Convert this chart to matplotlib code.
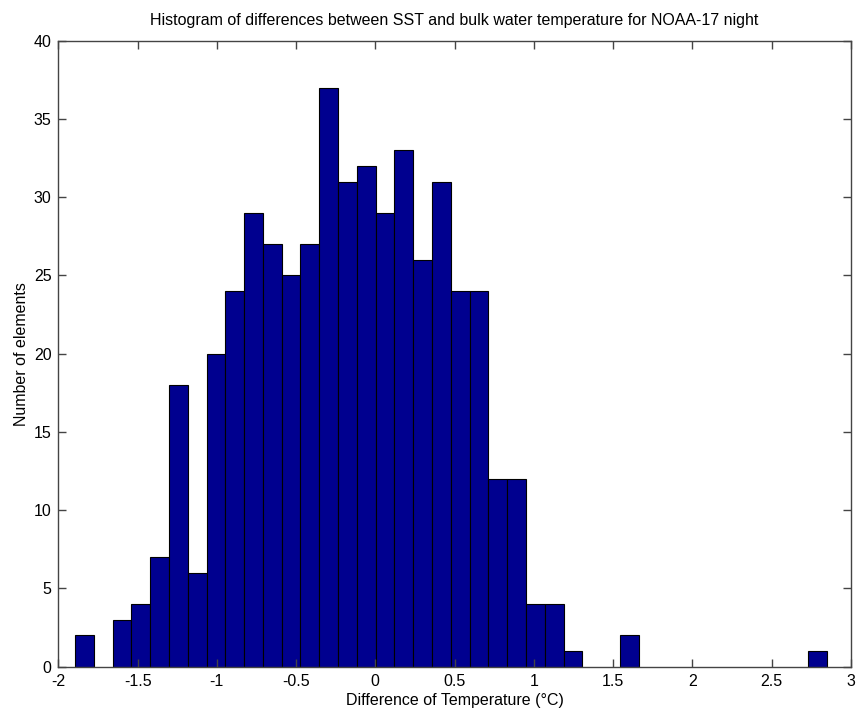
import numpy as np
import matplotlib
matplotlib.use("Agg")
import matplotlib.pyplot as plt

# Histogram of SST minus bulk water temperature, NOAA-17 night passes
bin_min = -1.895
bin_max = 2.848
counts = [2, 0, 3, 4, 7, 18, 6, 20, 24, 29,
          27, 25, 27, 37, 31, 32, 29, 33, 26, 31,
          24, 24, 12, 12, 4, 4, 1, 0, 0, 2,
          0, 0, 0, 0, 0, 0, 0, 0, 0, 1]

title = "Histogram of differences between SST and bulk water temperature for NOAA-17 night"
xlabel = "Difference of Temperature (\u00b0C)"
ylabel = "Number of elements"
xticks = [-2, -1.5, -1, -0.5, 0, 0.5, 1, 1.5, 2, 2.5, 3]
xticklabels = ["-2", "-1.5", "-1", "-0.5", "0", "0.5", "1", "1.5", "2", "2.5", "3"]
yticks = [0, 5, 10, 15, 20, 25, 30, 35, 40]

plt.rcParams['font.family'] = ['Liberation Sans', 'DejaVu Sans']

edges = np.linspace(bin_min, bin_max, len(counts) + 1)
widths = np.diff(edges)

fig = plt.figure(figsize=(8.59, 7.19), dpi=100)
ax = fig.add_axes([0.0679, 0.0727, 0.9225, 0.8707])

nz = [i for i, c in enumerate(counts) if c > 0]
ax.bar(edges[:-1][nz], np.array(counts)[nz], width=widths[nz], align='edge',
       color='#00008F', edgecolor='black', linewidth=0.8)

ax.set_xlim(-2, 3)
ax.set_ylim(0, 40)
ax.set_xticks(xticks)
ax.set_xticklabels(xticklabels)
ax.set_yticks(yticks)

axis_color = '#444444'
for s in ax.spines.values():
    s.set_color(axis_color)
    s.set_linewidth(1.0)
ax.tick_params(direction='in', length=6, width=1.0, color=axis_color,
               top=True, right=True, labelsize=11.5, labelcolor='black', pad=5)

ax.set_title(title, fontsize=11.5, pad=11)
ax.set_xlabel(xlabel, fontsize=11.5, labelpad=3)
ax.set_ylabel(ylabel, fontsize=11.5, labelpad=3)

fig.savefig("out.png", dpi=100)
